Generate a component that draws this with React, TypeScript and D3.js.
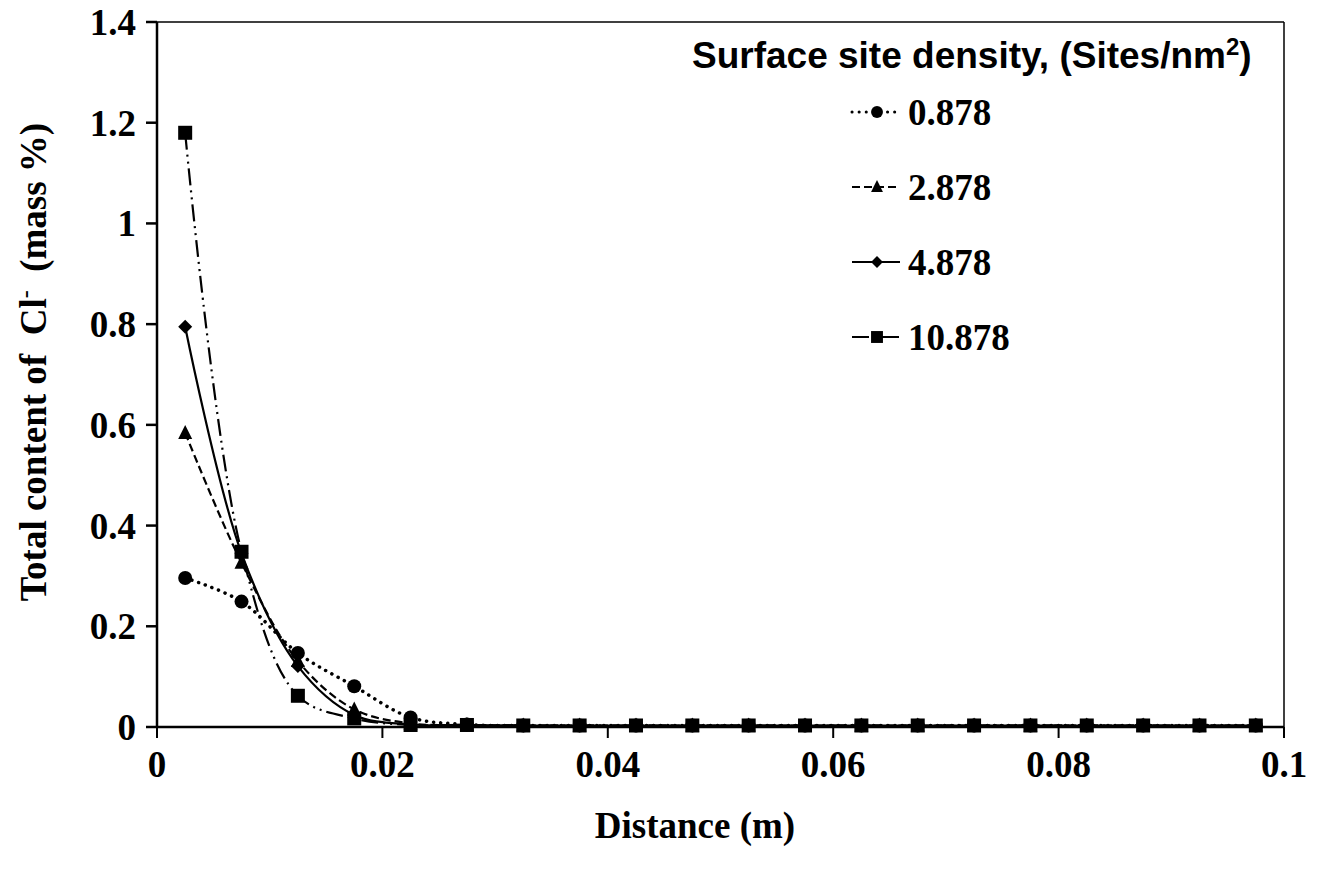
import React from "react";
import * as d3 from "d3";

const distances = [0.0025, 0.0075, 0.0125, 0.0175, 0.0225, 0.0275, 0.0325, 0.0375, 0.0425, 0.0475, 0.0525, 0.0575, 0.0625, 0.0675, 0.0725, 0.0775, 0.0825, 0.0875, 0.0925, 0.0975];

const s0878 = [0.296, 0.249, 0.147, 0.081, 0.019, 0.005, 0.003, 0.003, 0.003, 0.003, 0.003, 0.003, 0.003, 0.003, 0.003, 0.003, 0.003, 0.003, 0.003, 0.003];
const s2878 = [0.584, 0.326, 0.131, 0.035, 0.007, 0.004, 0.003, 0.003, 0.003, 0.003, 0.003, 0.003, 0.003, 0.003, 0.003, 0.003, 0.003, 0.003, 0.003, 0.003];
const s4878 = [0.795, 0.345, 0.121, 0.024, 0.005, 0.004, 0.003, 0.003, 0.003, 0.003, 0.003, 0.003, 0.003, 0.003, 0.003, 0.003, 0.003, 0.003, 0.003, 0.003];
const s10878 = [1.18, 0.348, 0.062, 0.017, 0.004, 0.004, 0.003, 0.003, 0.003, 0.003, 0.003, 0.003, 0.003, 0.003, 0.003, 0.003, 0.003, 0.003, 0.003, 0.003];

const seriesNames = ["0.878", "2.878", "4.878", "10.878"];
const seriesValues = [s0878, s2878, s4878, s10878];
const seriesMarkers = ["circle", "triangle", "diamond", "square"];
const seriesDash = ["0.1,7", "8,4", "", "17,5,2,5,2,5"];

const xTicks = [0, 0.02, 0.04, 0.06, 0.08, 0.1];
const yTicks = [0, 0.2, 0.4, 0.6, 0.8, 1, 1.2, 1.4];

const W = 1323;
const H = 875;
const plot = { left: 157, right: 1284, top: 22, bottom: 727 };

const serif = "'Liberation Serif', 'Times New Roman', serif";
const sans = "'Liberation Sans', Arial, sans-serif";

function Marker({ type, x, y, s = 1 }: { type: string; x: number; y: number; s?: number }) {
  if (type === "circle") return <circle cx={x} cy={y} r={7 * s} fill="#000" />;
  if (type === "square") {
    const h = 7 * s;
    return <rect x={x - h} y={y - h} width={2 * h} height={2 * h} fill="#000" />;
  }
  if (type === "triangle") {
    const h = 7 * s;
    return <path d={`M${x},${y - h - 1}L${x + h},${y + h - 1}L${x - h},${y + h - 1}Z`} fill="#000" />;
  }
  const h = 7 * s;
  return <path d={`M${x},${y - h}L${x + h},${y}L${x},${y + h}L${x - h},${y}Z`} fill="#000" />;
}

export default function App() {
  const x = d3.scaleLinear().domain([0, 0.1]).range([plot.left, plot.right]);
  const y = d3.scaleLinear().domain([0, 1.4]).range([plot.bottom, plot.top]);
  const line = d3
    .line<number>()
    .x((_, i) => x(distances[i]))
    .y((d) => y(d))
    .curve(d3.curveCatmullRom.alpha(0.5));

  const legendX = 877;
  const legendRows = [112, 187, 262, 337];

  return (
    <svg
      width={W}
      height={H}
      style={{ position: "absolute", left: 0, top: 0, background: "#fff" }}
    >
      <rect x={0} y={0} width={W} height={H} fill="#fff" />
      {/* frame */}
      <line x1={plot.left} x2={plot.right} y1={plot.top} y2={plot.top} stroke="#000" strokeWidth={1.5} />
      <line x1={plot.right} x2={plot.right} y1={plot.top} y2={plot.bottom} stroke="#000" strokeWidth={1.5} />

      {/* series lines */}
      {seriesValues.map((vals, si) => (
        <path
          key={"l" + si}
          d={line(vals) || ""}
          fill="none"
          stroke="#000"
          strokeWidth={si === 0 ? 3.5 : 2.2}
          strokeDasharray={seriesDash[si] || undefined}
          strokeLinecap={si === 0 ? "round" : "butt"}
        />
      ))}

      {/* axes */}
      <line x1={plot.left} x2={plot.left} y1={plot.top} y2={plot.bottom} stroke="#000" strokeWidth={2.5} />
      <line x1={plot.left} x2={plot.right} y1={plot.bottom} y2={plot.bottom} stroke="#000" strokeWidth={2.5} />
      {yTicks.map((t) => (
        <g key={"yt" + t}>
          <line x1={plot.left - 11} x2={plot.left} y1={y(t)} y2={y(t)} stroke="#000" strokeWidth={2.5} />
          <text
            x={136}
            y={y(t)}
            dy="0.35em"
            textAnchor="end"
            fontFamily={serif}
            fontWeight="bold"
            fontSize={37}
          >
            {d3.format("")(t)}
          </text>
        </g>
      ))}
      {xTicks.map((t) => (
        <g key={"xt" + t}>
          <line x1={x(t)} x2={x(t)} y1={plot.bottom} y2={plot.bottom + 11} stroke="#000" strokeWidth={2} />
          <text
            x={x(t)}
            y={777}
            textAnchor="middle"
            fontFamily={serif}
            fontWeight="bold"
            fontSize={37}
          >
            {d3.format("")(t)}
          </text>
        </g>
      ))}

      {/* markers */}
      {seriesValues.map((vals, si) =>
        vals.map((v, i) => (
          <Marker key={"m" + si + "-" + i} type={seriesMarkers[si]} x={x(distances[i])} y={y(v)} />
        ))
      )}

      {/* axis titles */}
      <text x={695} y={838} textAnchor="middle" fontFamily={serif} fontWeight="bold" fontSize={37}>
        Distance (m)
      </text>
      <text
        transform={`translate(46,362) rotate(-90)`}
        textAnchor="middle"
        fontFamily={serif}
        fontWeight="bold"
        fontSize={37}
        style={{ whiteSpace: "pre" }}
      >
        {"Total content of  Cl"}
        <tspan dy={-13} fontSize={24}>-</tspan>
        <tspan dy={13}>{"  (mass %)"}</tspan>
      </text>

      {/* legend */}
      <text x={692} y={68} fontFamily={sans} fontWeight="bold" fontSize={37}>
        Surface site density, (Sites/nm<tspan dy={-13} fontSize={24}>2</tspan>
        <tspan dy={13}>)</tspan>
      </text>
      {seriesNames.map((name, si) => (
        <g key={"lg" + si}>
          <line
            x1={legendX - 25}
            x2={legendX + 23}
            y1={legendRows[si]}
            y2={legendRows[si]}
            stroke="#000"
            strokeWidth={si === 0 ? 3 : 2.2}
            strokeDasharray={seriesDash[si] ? (si === 3 ? "17,6,2,5" : seriesDash[si]) : undefined}
            strokeLinecap={si === 0 ? "round" : "butt"}
          />
          <Marker type={seriesMarkers[si]} x={legendX} y={legendRows[si]} s={0.85} />
          <text
            x={908}
            y={legendRows[si]}
            dy="0.35em"
            fontFamily={serif}
            fontWeight="bold"
            fontSize={37}
          >
            {name}
          </text>
        </g>
      ))}
    </svg>
  );
}
